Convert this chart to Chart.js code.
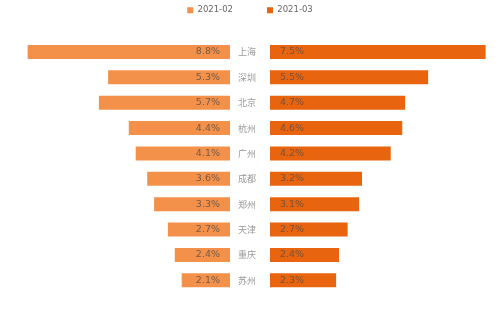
<!DOCTYPE html>
<html>
<head>
<meta charset="utf-8">
<script src="https://cdn.jsdelivr.net/npm/chart.js@4"></script>
<style>
  html, body { margin: 0; padding: 0; background: #fff; }
  #caja { width: 500px; height: 333px; position: relative; }
</style>
</head>
<body>
<div id="caja"><canvas id="graficoMariposa"></canvas></div>
<script>
/** Datos del grafico */
let ciudades = ['上海', '深圳', '北京', '杭州', '广州', '成都', '郑州', '天津', '重庆', '苏州'];
let febrero = [8.8, 5.3, 5.7, 4.4, 4.1, 3.6, 3.3, 2.7, 2.4, 2.1];
let marzo = [7.5, 5.5, 4.7, 4.6, 4.2, 3.2, 3.1, 2.7, 2.4, 2.3];
let series = ['2021-02', '2021-03'];

let colorFeb = '#f3914a';
let colorMar = '#e8640e';

Chart.defaults.font.family = "'DejaVu Sans', 'Noto Sans CJK SC', sans-serif";

/** Deja espacio debajo de la leyenda */
let espacioLeyenda = {
    id: 'espacioLeyenda',
    beforeInit(chart) {
        let fitOriginal = chart.legend.fit;
        chart.legend.fit = function () {
            fitOriginal.bind(chart.legend)();
            this.height = 67.3;
        };
    }
};

/** Etiquetas de valores y nombres de ciudades */
let etiquetas = {
    id: 'etiquetas',
    afterDatasetsDraw(chart) {
        const ctx = chart.ctx;
        ctx.save();
        ctx.textBaseline = 'middle';
        ctx.font = "9.5px 'DejaVu Sans', sans-serif";
        ctx.fillStyle = 'rgba(95,80,70,0.85)';
        chart.data.datasets.forEach((ds, i) => {
            chart.getDatasetMeta(i).data.forEach((bar, j) => {
                let dir = bar.x < bar.base ? -1 : 1;
                ctx.textAlign = dir < 0 ? 'right' : 'left';
                ctx.fillText(ds.data[j].toFixed(1) + '%', bar.base + dir * 10, bar.y);
            });
        });
        const medio = chart.scales.xM;
        ctx.font = "9px 'Noto Sans CJK SC', sans-serif";
        ctx.fillStyle = '#999';
        ctx.textAlign = 'left';
        ciudades.forEach((c, j) => {
            ctx.fillText(c, medio.left + 8, chart.scales.y.getPixelForValue(j));
        });
        ctx.restore();
    }
};

new Chart(document.getElementById('graficoMariposa'), {
    type: 'bar',
    data: {
        labels: ciudades,
        datasets: [{
            label: series[0],
            data: febrero,
            xAxisID: 'xL',
            backgroundColor: colorFeb,
            borderWidth: 0,
            grouped: false,
            categoryPercentage: 1,
            barPercentage: 0.552
        }, {
            label: series[1],
            data: marzo,
            xAxisID: 'xR',
            backgroundColor: colorMar,
            borderWidth: 0,
            grouped: false,
            categoryPercentage: 1,
            barPercentage: 0.552
        }]
    },
    options: {
        indexAxis: 'y',
        responsive: true,
        maintainAspectRatio: false,
        animation: false,
        layout: {
            padding: { top: -28, bottom: 40, left: 0, right: 0 }
        },
        scales: {
            xL: { type: 'linear', axis: 'x', position: 'bottom', stack: 'fila', stackWeight: 230,
                  reverse: true, min: 0, max: 10, display: false },
            xM: { type: 'linear', axis: 'x', position: 'bottom', stack: 'fila', stackWeight: 40,
                  min: 0, max: 1, display: false },
            xR: { type: 'linear', axis: 'x', position: 'bottom', stack: 'fila', stackWeight: 230,
                  min: 0, max: 8, display: false },
            y: { type: 'category', display: false }
        },
        plugins: {
            legend: {
                position: 'top',
                labels: {
                    boxWidth: 6,
                    boxHeight: 6,
                    padding: 34,
                    color: '#666',
                    font: { size: 8.5 }
                }
            },
            tooltip: { enabled: false }
        }
    },
    plugins: [espacioLeyenda, etiquetas]
});
</script>
</body>
</html>
